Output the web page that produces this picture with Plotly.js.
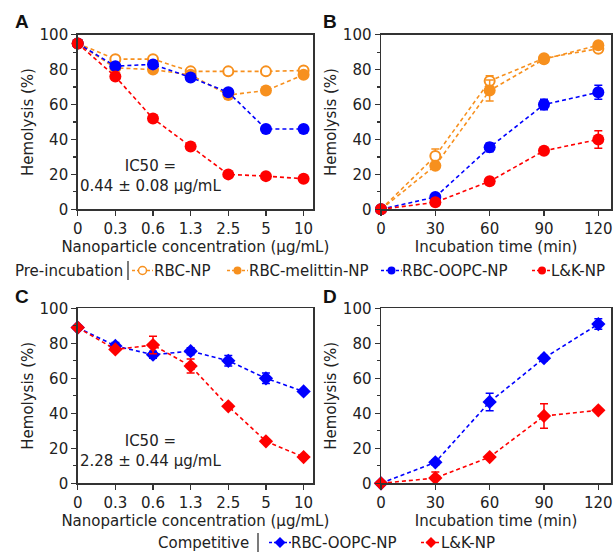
<!DOCTYPE html>
<html><head><meta charset="utf-8">
<script src="https://cdn.plot.ly/plotly-3.0.1.min.js"></script>
<style>html,body{margin:0;padding:0;background:#fff}#chart{width:615px;height:553px}</style>
</head><body><div id="chart"></div>
<script>
const concLabels = ['0','0.3','0.6','1.3','2.5','5','10'];
const timeLabels = [0,30,60,90,120];
const seriesNamesPre = ['RBC-NP','RBC-melittin-NP','RBC-OOPC-NP','L&K-NP'];
const seriesNamesComp = ['RBC-OOPC-NP','L&K-NP'];

// Panel A: pre-incubation, concentration
const rbcNP_A = [95,86,86,79,79,79,79.5];
const melittin_A = [95,81,80,77,65.5,68,77];
const oopc_A = [95,82,83,75.5,67,46,46];
const lk_A = [95,76,52,36,20,19,17.5];
const errSmall_A = [1,1.5,1.5,1,1,1,1];

// Panel B: pre-incubation, time
const rbcNP_B = [0,30.5,73.5,86.5,92];
const rbcNP_Berr = [0,4,3,2,2];
const melittin_B = [0,25,68,86,94];
const melittin_Berr = [0,1.5,6,2,1.5];
const oopc_B = [0,7,35.5,60,67];
const oopc_Berr = [0,1,2.5,3,4];
const lk_B = [0,4,16,33.5,40];
const lk_Berr = [0,1,1,1,5];

// Panel C: competitive, concentration
const oopc_C = [89,78.5,73.5,75.5,70,60,52.5];
const oopc_Cerr = [1,2,2,2,3,3,1];
const lk_C = [89,76.5,79,67,44,24,15];
const lk_Cerr = [1,1,5,4,1,1,1];

// Panel D: competitive, time
const oopc_D = [0,12,46.5,71.5,91];
const oopc_Derr = [0,1.5,5,1.5,3];
const lk_D = [0,3,15,38.5,41.7];
const lk_Derr = [0,3.5,1,7,1];

const ORANGE = '#F7901E', BLUE = '#0000FF', RED = '#FF0000';
const FONT = 'DejaVu Sans, Verdana, sans-serif';
const FS = 15;

function tr(x, y, err, color, xa, ya, opts) {
  opts = opts || {};
  return {
    type: 'scatter', mode: 'lines+markers', x: x, y: y,
    xaxis: xa, yaxis: ya, cliponaxis: false,
    name: opts.name || '', showlegend: false,
    line: {color: color, dash: '4px,3px', width: 1.6},
    marker: {
      symbol: opts.symbol || 'circle', size: opts.size || 12,
      color: opts.open ? '#ffffff' : color,
      line: {color: color, width: opts.open ? 2 : 0}
    },
    error_y: {type: 'data', array: err, visible: true, color: color, thickness: 1.5, width: 4}
  };
}

const data = [
  // A
  tr(concLabels, rbcNP_A, errSmall_A, ORANGE, 'x', 'y', {open: true, size: 10, name: seriesNamesPre[0]}),
  tr(concLabels, melittin_A, errSmall_A, ORANGE, 'x', 'y', {name: seriesNamesPre[1]}),
  tr(concLabels, oopc_A, errSmall_A, BLUE, 'x', 'y', {name: seriesNamesPre[2]}),
  tr(concLabels, lk_A, errSmall_A, RED, 'x', 'y', {name: seriesNamesPre[3]}),
  // B
  tr(timeLabels, rbcNP_B, rbcNP_Berr, ORANGE, 'x2', 'y2', {open: true, size: 10, name: seriesNamesPre[0]}),
  tr(timeLabels, melittin_B, melittin_Berr, ORANGE, 'x2', 'y2', {name: seriesNamesPre[1]}),
  tr(timeLabels, oopc_B, oopc_Berr, BLUE, 'x2', 'y2', {name: seriesNamesPre[2]}),
  tr(timeLabels, lk_B, lk_Berr, RED, 'x2', 'y2', {name: seriesNamesPre[3]}),
  // C
  tr(concLabels, oopc_C, oopc_Cerr, BLUE, 'x3', 'y3', {symbol: 'diamond', size: 11, name: seriesNamesComp[0]}),
  tr(concLabels, lk_C, lk_Cerr, RED, 'x3', 'y3', {symbol: 'diamond', size: 11, name: seriesNamesComp[1]}),
  // D
  tr(timeLabels, oopc_D, oopc_Derr, BLUE, 'x4', 'y4', {symbol: 'diamond', size: 11, name: seriesNamesComp[0]}),
  tr(timeLabels, lk_D, lk_Derr, RED, 'x4', 'y4', {symbol: 'diamond', size: 11, name: seriesNamesComp[1]})
];

const W = 615, H = 553;
function dx(a, b) { return [a / W, b / W]; }
function dy(top, bot) { return [1 - bot / H, 1 - top / H]; }
function px(x) { return x / W; }
function py(y) { return 1 - y / H; }

const axLine = {showline: true, mirror: true, linecolor: '#333', linewidth: 1.5,
  ticks: 'outside', ticklen: 5, tickwidth: 1.5, tickcolor: '#333', showgrid: false, zeroline: false,
  tickfont: {family: FONT, size: FS, color: '#222'}};

function yax(dom, anchor) {
  return Object.assign({}, axLine, {domain: dom, anchor: anchor, range: [0, 100], dtick: 20,
    minor: {ticks: 'outside', ticklen: 3, tickwidth: 1.2, tickcolor: '#333', dtick: 10},
    title: {text: 'Hemolysis (%)', font: {family: FONT, size: FS, color: '#222'}, standoff: 2}});
}
function xcat(dom, anchor) {
  return Object.assign({}, axLine, {domain: dom, anchor: anchor, type: 'category', range: [0, 6.25],
    title: {text: 'Nanoparticle concentration (μg/mL)', font: {family: FONT, size: FS, color: '#222'}, standoff: 2}});
}
function xtime(dom, anchor) {
  return Object.assign({}, axLine, {domain: dom, anchor: anchor, range: [0, 127], tickvals: timeLabels,
    title: {text: 'Incubation time (min)', font: {family: FONT, size: FS, color: '#222'}, standoff: 2}});
}

const dAx = dx(77.7, 313), dBx = dx(381, 611);
const dTop = dy(34.7, 209.3), dBot = dy(308.3, 483.3);

function txt(t, x, y, anchor, size, bold) {
  return {text: bold ? '<b>' + t + '</b>' : t, xref: 'paper', yref: 'paper', x: px(x), y: py(y),
    xanchor: anchor, yanchor: 'middle', showarrow: false, align: 'center', borderpad: 0,
    font: {family: bold ? 'Liberation Sans, Arial, sans-serif' : FONT, size: size, color: bold ? '#111' : '#222'}};
}

// custom legend keys
const shapes = [];
const annotations = [
  txt('A', 14, 21.5, 'left', 19, true), txt('B', 322, 21.5, 'left', 19, true),
  txt('C', 14, 296.5, 'left', 19, true), txt('D', 322, 296.5, 'left', 19, true),
  txt('IC50 =<br>0.44 ± 0.08 μg/mL', 150, 176, 'center', FS),
  txt('IC50 =<br>2.28 ± 0.44 μg/mL', 150, 451, 'center', FS)
];
function legendKey(x0, x1, y, color, symbol, open, textX, name) {
  shapes.push({type: 'line', xref: 'paper', yref: 'paper', x0: px(x0), x1: px(x1), y0: py(y), y1: py(y),
    line: {color: color, width: 1.5, dash: '3px,2px'}});
  const cx = px((x0 + x1) / 2), cy = py(y);
  if (symbol === 'circle') {
    shapes.push({type: 'circle', xref: 'paper', yref: 'paper', xsizemode: 'pixel', ysizemode: 'pixel',
      xanchor: cx, yanchor: cy, x0: -4, x1: 4, y0: -4, y1: 4,
      fillcolor: open ? '#ffffff' : color, line: {color: color, width: open ? 1.5 : 0}});
  } else {
    shapes.push({type: 'path', xref: 'paper', yref: 'paper', xsizemode: 'pixel', ysizemode: 'pixel',
      xanchor: cx, yanchor: cy, path: 'M -5.5 0 L 0 5.5 L 5.5 0 L 0 -5.5 Z',
      fillcolor: color, line: {color: color, width: 0}});
  }
  annotations.push(txt(name, textX, y + 0.5, 'left', FS));
}
// legend 1: Pre-incubation
annotations.push(txt('Pre-incubation', 14, 270.5, 'left', FS));
shapes.push({type: 'line', xref: 'paper', yref: 'paper', x0: px(128), x1: px(128), y0: py(261), y1: py(280), line: {color: '#333', width: 1.3}});
legendKey(132, 153, 270.5, ORANGE, 'circle', true, 153, seriesNamesPre[0]);
legendKey(227, 248, 270.5, ORANGE, 'circle', false, 248, seriesNamesPre[1]);
legendKey(381, 402, 270.5, BLUE, 'circle', false, 401, seriesNamesPre[2]);
legendKey(532, 552, 270.5, RED, 'circle', false, 550, seriesNamesPre[3]);
// legend 2: Competitive
const LY = 542.5;
annotations.push(txt('Competitive', 157, LY, 'left', FS));
shapes.push({type: 'line', xref: 'paper', yref: 'paper', x0: px(258), x1: px(258), y0: py(533), y1: py(552), line: {color: '#333', width: 1.3}});
legendKey(269, 291, LY, BLUE, 'diamond', false, 290, seriesNamesComp[0]);
legendKey(421, 441, LY, RED, 'diamond', false, 440, seriesNamesComp[1]);

const layout = {
  width: W, height: H, margin: {l: 0, r: 0, t: 0, b: 0},
  paper_bgcolor: '#fff', plot_bgcolor: '#fff', showlegend: false,
  font: {family: FONT, color: '#222'},
  xaxis: xcat(dAx, 'y'), yaxis: yax(dTop, 'x'),
  xaxis2: xtime(dBx, 'y2'), yaxis2: yax(dTop, 'x2'),
  xaxis3: xcat(dAx, 'y3'), yaxis3: yax(dBot, 'x3'),
  xaxis4: xtime(dBx, 'y4'), yaxis4: yax(dBot, 'x4'),
  shapes: shapes,
  annotations: annotations
};

Plotly.newPlot('chart', data, layout, {staticPlot: true, displayModeBar: false});
</script></body></html>
